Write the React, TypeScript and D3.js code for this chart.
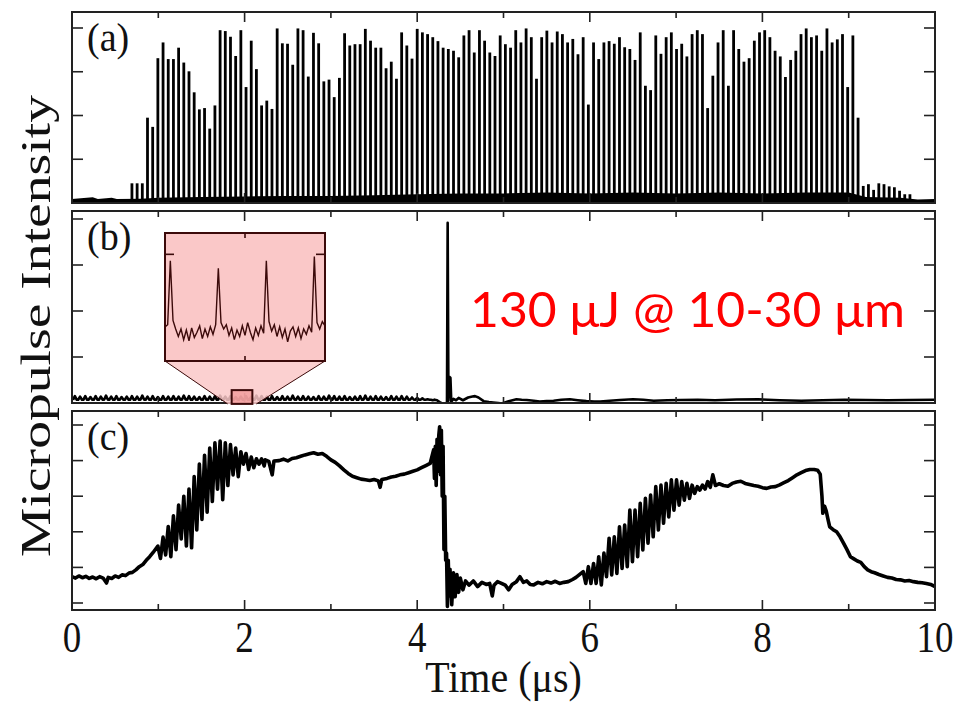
import React, { useEffect, useRef } from "react";
import * as d3 from "d3";

// micropulse timing (us): pulse k sits at pulseT0 + k * pulsePeriod
const pulseT0 = 4.0;
const pulsePeriod = 0.0601;

// (a) peak height of each micropulse, pulse index -55 .. 95
const aFirstPulse = -55;
const aPeaks = [
  0.45, 0.45, 0.45,
  1.95, 1.74, 3.31, 3.67, 3.29, 3.29, 3.55, 3.21, 3.01, 2.53, 2.14, 2.17, 1.7, 2.23,
  3.95, 3.93, 3.8, 3.36, 3.95, 2.65, 3.71, 3.06, 2.23, 2.34, 2.15, 3.99, 3.65, 3.64,
  3.16, 3.99, 3.95, 2.89, 3.89, 3.65, 2.78, 2.82, 2.42, 2.86, 3.88,
  3.6, 3.63, 3.63, 3.98, 3.71, 3.55, 3.55, 3.08, 3.23, 2.84, 3.9, 3.6, 3.3,
  3.98, 3.9, 3.86, 3.79, 3.7, 3.55, 3.52, 3.48, 3.33, 3.83, 3.95, 3.44, 3.95, 3.71,
  3.44, 3.36, 3.83, 3.63, 3.55, 3.95, 3.67, 3.99, 3.79, 2.84, 3.79, 3.94, 3.67, 3.92,
  3.86, 3.67, 3.75, 3.4, 3.79, 2.25, 3.67, 3.29, 3.67, 3.7,
  3.64, 3.79, 3.56, 3.52, 3.27, 3.9, 2.68, 2.58, 3.83, 3.41, 3.79, 3.9, 3.52, 3.64,
  3.35, 3.86, 3.95, 3.86, 2.17, 2.91, 3.67, 3.95, 2.68, 3.95, 3.52, 3.23, 3.31, 3.71,
  3.9, 3.95, 3.79, 3.48, 3.35, 2.88, 3.27, 3.48, 3.86, 3.99, 3.79, 3.83, 3.48, 3.99,
  3.67, 3.74, 3.86, 2.65, 3.83, 1.95,
  0.39, 0.43, 0.3, 0.45, 0.43, 0.38, 0.36, 0.28, 0.2, 0.2,
];
// (a) top of the noise floor between pulses [t, value]
const aFloor = [
  [0, 0.09], [0.24, 0.13], [0.3, 0.09], [0.46, 0.12], [0.52, 0.09], [0.8, 0.1], [1.0, 0.12],
  [1.5, 0.14], [2.0, 0.15], [2.5, 0.16], [3.0, 0.16], [3.5, 0.18], [4.0, 0.2], [4.5, 0.22],
  [5.0, 0.22], [5.5, 0.24], [6.0, 0.22], [6.5, 0.24], [7.0, 0.22], [7.5, 0.24], [8.0, 0.22],
  [8.5, 0.24], [9.0, 0.24], [9.2, 0.14], [9.6, 0.12], [9.8, 0.08], [10, 0.09],
];

// (b) small ripple on the baseline before the burst, pulse index -66 .. 3
const bFirstTooth = -66;
const bBase = 0.07;
const bTeeth = [
  0.15, 0.14, 0.15, 0.13, 0.15, 0.14, 0.16, 0.14, 0.15, 0.13,
  0.14, 0.15, 0.14, 0.16, 0.14, 0.15, 0.13, 0.15, 0.14, 0.15,
  0.14, 0.16, 0.15, 0.14, 0.13, 0.15, 0.14, 0.15, 0.16, 0.14,
  0.15, 0.13, 0.14, 0.15, 0.14, 0.16, 0.15, 0.14, 0.15, 0.13,
  0.15, 0.14, 0.16, 0.14, 0.15, 0.14, 0.13, 0.15, 0.14, 0.16,
  0.15, 0.14, 0.15, 0.13, 0.14, 0.15, 0.16, 0.14, 0.15, 0.14,
  0.13, 0.15, 0.14, 0.15, 0.14, 0.12, 0.11, 0.1, 0.08, 0.06,
];
// (b) the burst and what follows [t, value]
const bTrace = [
  [4.2, 0.07], [4.23, 0.06], [4.26, 0.02], [4.29, -0.01], [4.32, -0.02], [4.345, -0.01],
  [4.353, 3.92], [4.362, 0.05], [4.372, 0.57], [4.385, 0.55], [4.395, 0.03], [4.42, 0.09],
  [4.45, 0.06], [4.48, 0.11], [4.53, 0.06], [4.59, 0.12], [4.64, 0.14], [4.67, 0.15],
  [4.71, 0.12], [4.77, 0.04], [4.83, 0.02], [4.88, 0.01], [4.94, 0.0], [4.98, -0.01],
  [5.06, 0.04], [5.15, 0.08], [5.21, 0.07], [5.27, 0.065], [5.35, 0.05], [5.42, 0.03],
  [5.5, 0.04], [5.58, 0.05], [5.67, 0.07], [5.77, 0.08], [5.86, 0.06], [5.96, 0.04],
  [6.05, 0.03], [6.12, 0.03], [6.23, 0.05], [6.35, 0.065], [6.5, 0.08], [6.62, 0.07],
  [6.74, 0.05], [6.9, 0.06], [7.05, 0.065], [7.25, 0.07], [7.45, 0.06], [7.7, 0.075],
  [7.95, 0.08], [8.2, 0.06], [8.45, 0.05], [8.7, 0.06], [8.95, 0.07], [9.2, 0.065],
  [9.45, 0.06], [9.7, 0.065], [10.0, 0.07],
];

// (b) inset: zoom of 1.85 .. 2.09 us, one sample every insetStep
const insetStart = 1.85;
const insetEnd = 2.09;
const insetStep = 0.004;
const insetValues = [
  0.12, 0.14, 0.74, 0.18, 0.1, 0.03, 0.1, 0.0, 0.09, -0.01, 0.11, 0.02, 0.07, 0.13, 0.01,
  0.1, 0.03, 0.12, 0.05, 0.14, 0.67, 0.16, 0.1, 0.14, 0.04, 0.11, 0.0, 0.09, 0.03, 0.13,
  0.04, 0.16, 0.07, 0.0, 0.11, 0.04, 0.13, 0.06, 0.74, 0.17, 0.08, 0.14, 0.03, 0.12, 0.02,
  0.1, -0.02, 0.08, 0.12, 0.03, 0.11, 0.01, 0.1, 0.05, 0.13, 0.07, 0.78, 0.16, 0.1, 0.17,
  0.13,
];

// (c) [t, value] segments, with the two modulated stretches as peak/trough per pulse
const cTraceStart = [
  [0.0, 0.74], [0.04, 0.7], [0.08, 0.76], [0.12, 0.71], [0.16, 0.75], [0.2, 0.69], [0.24, 0.73],
  [0.28, 0.68], [0.32, 0.74], [0.36, 0.7], [0.4, 0.56], [0.42, 0.72], [0.46, 0.69], [0.5, 0.76],
  [0.54, 0.72], [0.58, 0.79], [0.62, 0.77], [0.66, 0.84], [0.7, 0.86], [0.74, 0.93], [0.78, 1.02],
  [0.82, 1.08], [0.86, 1.2], [0.9, 1.3], [0.94, 1.42],
];
const cOsc1First = -50;
const cOsc1Peaks = [
  1.6, 1.85, 2.15, 2.45, 2.75, 3.0, 3.2, 3.55, 3.9, 4.15, 4.35, 4.5, 4.55, 4.5, 4.45, 4.35,
  4.25, 4.2, 4.1, 4.05, 4.05,
];
const cOsc1Troughs = [
  1.25, 1.35, 1.3, 1.5, 1.8, 1.6, 1.55, 2.05, 2.35, 2.55, 2.85, 3.2, 2.9, 3.3, 3.6, 3.55,
  3.9, 3.75, 3.8, 3.9, 3.85,
];
const cTraceMid = [
  [2.24, 4.02], [2.28, 3.98], [2.32, 3.6], [2.34, 3.99], [2.4, 4.0], [2.45, 4.04], [2.5, 3.99],
  [2.55, 4.06], [2.6, 4.08], [2.65, 4.12], [2.7, 4.16], [2.75, 4.19], [2.8, 4.22], [2.85, 4.18],
  [2.9, 4.2], [2.95, 4.12], [3.0, 4.02], [3.05, 3.95], [3.1, 3.85], [3.15, 3.74], [3.2, 3.64],
  [3.25, 3.56], [3.3, 3.52], [3.35, 3.48], [3.4, 3.46], [3.45, 3.44], [3.5, 3.47], [3.55, 3.43],
  [3.57, 3.25], [3.59, 3.47], [3.65, 3.5], [3.7, 3.54], [3.75, 3.56], [3.8, 3.6], [3.85, 3.62],
  [3.9, 3.66], [3.95, 3.7], [4.0, 3.74], [4.05, 3.8], [4.1, 3.86], [4.15, 3.92],
  [4.19, 4.3], [4.2, 3.5], [4.21, 4.4], [4.22, 3.3], [4.23, 4.6], [4.24, 3.7], [4.25, 4.7],
  [4.26, 4.95], [4.27, 3.6], [4.28, 4.85], [4.29, 3.0], [4.3, 4.4], [4.31, 1.5], [4.32, 3.0],
  [4.33, 1.2], [4.34, 1.4], [4.35, -0.1], [4.36, 1.2], [4.37, 0.2], [4.38, 0.95], [4.4, -0.05],
  [4.42, 0.85], [4.44, 0.18], [4.46, 0.8], [4.48, 0.3], [4.5, 0.7], [4.53, 0.37], [4.56, 0.62],
  [4.6, 0.5], [4.65, 0.62], [4.7, 0.46], [4.75, 0.58], [4.8, 0.52], [4.84, 0.55], [4.87, 0.2],
  [4.89, 0.5], [4.93, 0.6], [4.97, 0.56], [5.02, 0.5], [5.06, 0.37], [5.1, 0.52], [5.15, 0.6],
  [5.19, 0.74], [5.23, 0.58], [5.27, 0.62], [5.31, 0.52], [5.35, 0.51], [5.4, 0.58], [5.45, 0.54],
  [5.5, 0.6], [5.55, 0.56], [5.6, 0.61], [5.65, 0.55], [5.7, 0.58], [5.75, 0.6], [5.8, 0.66],
  [5.84, 0.72],
];
const cOsc2First = 32;
const cOsc2Peaks = [
  0.88, 1.02, 1.11, 1.3, 1.4, 1.82, 1.86, 2.14, 2.19, 2.61, 2.61, 2.8, 2.94, 3.03, 3.27, 3.31,
  3.36, 3.46, 3.46, 3.41, 3.36, 3.31, 3.27, 3.31, 3.41, 3.6,
];
const cOsc2Troughs = [
  0.55, 0.55, 0.55, 0.51, 0.74, 0.79, 0.83, 0.97, 1.02, 1.16, 1.3, 1.49, 1.68, 1.86, 2.05, 2.24,
  2.42, 2.61, 2.75, 2.89, 2.94, 3.08, 3.17, 3.2, 3.25, 3.3,
];
const cTraceEnd = [
  [7.5, 3.35], [7.55, 3.3], [7.6, 3.28], [7.65, 3.36], [7.7, 3.4], [7.75, 3.42], [7.8, 3.36],
  [7.85, 3.33], [7.9, 3.3], [7.95, 3.28], [8.0, 3.24], [8.05, 3.22], [8.1, 3.26], [8.15, 3.27],
  [8.2, 3.32], [8.25, 3.38], [8.3, 3.44], [8.35, 3.52], [8.4, 3.6], [8.45, 3.66], [8.5, 3.72],
  [8.55, 3.75], [8.6, 3.75], [8.64, 3.73], [8.67, 3.62], [8.69, 3.0], [8.7, 2.52], [8.72, 2.72],
  [8.74, 2.58], [8.76, 2.35], [8.78, 2.14], [8.82, 2.06], [8.86, 2.0], [8.9, 1.86], [8.94, 1.68],
  [8.98, 1.5], [9.02, 1.3], [9.06, 1.24], [9.1, 1.18], [9.14, 1.14], [9.18, 1.02], [9.22, 0.93],
  [9.26, 0.88], [9.3, 0.85], [9.35, 0.8], [9.4, 0.76], [9.45, 0.72], [9.5, 0.7], [9.55, 0.66],
  [9.6, 0.65], [9.65, 0.62], [9.7, 0.63], [9.75, 0.6], [9.8, 0.58], [9.85, 0.57], [9.9, 0.55],
  [9.95, 0.52], [10.0, 0.46],
];

const xTicks = [0, 1, 2, 3, 4, 5, 6, 7, 8, 9, 10];
const xTickLabels = [0, 2, 4, 6, 8, 10];
const panelLabels = ["(a)", "(b)", "(c)"];

const pulseTime = (k: number) => pulseT0 + k * pulsePeriod;

const App = () => {
  const svgRef = useRef(null);

  useEffect(() => {
    const width = 958;
    const height = 702;
    const left = 72;
    const right = 935;
    const serif = "'Liberation Serif', 'Times New Roman', serif";

    const svg = d3.select(svgRef.current);
    svg.selectAll("*").remove();
    svg.attr("width", width).attr("height", height);
    svg.append("rect").attr("width", width).attr("height", height).attr("fill", "#fff");

    const x = d3.scaleLinear().domain([0, 10]).range([left, right]);

    const panels = [
      { top: 12, bottom: 203, y: d3.scaleLinear().domain([0, 4]).range([203, 28]), yTicks: [1, 2, 3, 4], labelY: 51 },
      { top: 211, bottom: 403, y: d3.scaleLinear().domain([0, 4]).range([403, 219]), yTicks: [1, 2, 3, 4], labelY: 250 },
      { top: 411, bottom: 610, y: d3.scaleLinear().domain([0, 5]).range([603, 425]), yTicks: [0, 1, 2, 3, 4, 5], labelY: 450 },
    ];

    const defs = svg.append("defs");
    panels.forEach((p, i) => {
      defs
        .append("clipPath")
        .attr("id", `clip-${i}`)
        .append("rect")
        .attr("x", left)
        .attr("y", p.top)
        .attr("width", right - left)
        .attr("height", p.bottom - p.top);
    });

    //(a) pulse train
    const pa = panels[0];
    const ga = svg.append("g").attr("clip-path", "url(#clip-0)");
    ga.append("path")
      .attr(
        "d",
        d3
          .area()
          .x((d) => x(d[0]))
          .y0(pa.y(0.01))
          .y1((d) => pa.y(d[1]))(aFloor),
      )
      .attr("fill", "#000");
    ga.selectAll(".pulse")
      .data(aPeaks)
      .join("line")
      .attr("class", "pulse")
      .attr("x1", (d, i) => x(pulseTime(aFirstPulse + i)))
      .attr("x2", (d, i) => x(pulseTime(aFirstPulse + i)))
      .attr("y1", pa.y(0.02))
      .attr("y2", (d) => pa.y(d))
      .attr("stroke", "#000")
      .attr("stroke-width", 2.8);

    //(b) trace
    const pb = panels[1];
    const bPoints: number[][] = [];
    bTeeth.forEach((h, i) => {
      const t = pulseTime(bFirstTooth + i);
      bPoints.push([t - 0.022, bBase], [t, h], [t + 0.022, bBase]);
    });
    bTrace.forEach((d) => bPoints.push(d));
    const bLine = d3
      .line()
      .x((d) => x(d[0]))
      .y((d) => pb.y(d[1]));
    svg.append("g")
      .attr("clip-path", "url(#clip-1)")
      .append("path")
      .attr("d", bLine(bPoints))
      .attr("fill", "none")
      .attr("stroke", "#000")
      .attr("stroke-width", 2.6)
      .attr("stroke-linejoin", "round");

    //(c) trace
    const pc = panels[2];
    const cPoints: number[][] = [...cTraceStart];
    cOsc1Peaks.forEach((v, i) => {
      const t = pulseTime(cOsc1First + i);
      cPoints.push([t, v], [t + pulsePeriod / 2, cOsc1Troughs[i]]);
    });
    cTraceMid.forEach((d) => cPoints.push(d));
    cOsc2Peaks.forEach((v, i) => {
      const t = pulseTime(cOsc2First + i);
      cPoints.push([t, v], [t + pulsePeriod / 2, cOsc2Troughs[i]]);
    });
    cTraceEnd.forEach((d) => cPoints.push(d));
    svg.append("g")
      .attr("clip-path", "url(#clip-2)")
      .append("path")
      .attr(
        "d",
        d3
          .line()
          .x((d) => x(d[0]))
          .y((d) => pc.y(d[1]))(cPoints),
      )
      .attr("fill", "none")
      .attr("stroke", "#000")
      .attr("stroke-width", 3.6)
      .attr("stroke-linejoin", "round");

    //frames + ticks
    panels.forEach((p, i) => {
      const g = svg.append("g");
      xTicks.forEach((t) => {
        const len = t % 2 === 0 ? 10 : 6;
        g.append("line").attr("x1", x(t)).attr("x2", x(t)).attr("y1", p.top).attr("y2", p.top + len);
        g.append("line").attr("x1", x(t)).attr("x2", x(t)).attr("y1", p.bottom).attr("y2", p.bottom - len);
      });
      p.yTicks.forEach((v) => {
        g.append("line").attr("x1", left).attr("x2", left + 11).attr("y1", p.y(v)).attr("y2", p.y(v));
        g.append("line").attr("x1", right - 11).attr("x2", right).attr("y1", p.y(v)).attr("y2", p.y(v));
      });
      g.selectAll("line").attr("stroke", "#222").attr("stroke-width", 1.6);
      g.append("rect")
        .attr("x", left)
        .attr("y", p.top)
        .attr("width", right - left)
        .attr("height", p.bottom - p.top)
        .attr("fill", "none")
        .attr("stroke", "#222")
        .attr("stroke-width", 2);
      svg.append("text")
        .attr("transform", `translate(87,${p.labelY}) scale(1,1.08)`)
        .attr("font-family", serif)
        .attr("font-size", 38)
        .attr("fill", "#111")
        .text(panelLabels[i]);
    });

    //inset in (b)
    const pink = "#fac8c8";
    const dark = "#3b0a0a";
    const inset = { x0: 165, x1: 325, y0: 233, y1: 361 };
    const ix = d3.scaleLinear().domain([insetStart, insetEnd]).range([inset.x0, inset.x1]);
    const iy = d3.scaleLinear().domain([-0.2, 1.0]).range([inset.y1, inset.y0]);
    const boxL = x(insetStart);
    const boxR = x(insetEnd);
    const boxT = pb.y(0.28);
    const boxB = pb.y(-0.02);
    svg.append("path")
      .attr("d", `M${inset.x0},${inset.y1}L${inset.x1},${inset.y1}L${boxR + 4},${boxB}L${boxL - 4},${boxB}Z`)
      .attr("fill", pink)
      .attr("fill-opacity", 0.85);
    svg.append("line").attr("x1", inset.x0).attr("y1", inset.y1).attr("x2", boxL - 4).attr("y2", boxB)
      .attr("stroke", dark).attr("stroke-width", 1);
    svg.append("line").attr("x1", inset.x1).attr("y1", inset.y1).attr("x2", boxR + 4).attr("y2", boxB)
      .attr("stroke", dark).attr("stroke-width", 1);
    svg.append("rect")
      .attr("x", boxL)
      .attr("y", boxT)
      .attr("width", boxR - boxL)
      .attr("height", boxB - boxT)
      .attr("fill", "#f08a8a")
      .attr("fill-opacity", 0.6)
      .attr("stroke", dark)
      .attr("stroke-width", 2);
    svg.append("rect")
      .attr("x", inset.x0)
      .attr("y", inset.y0)
      .attr("width", inset.x1 - inset.x0)
      .attr("height", inset.y1 - inset.y0)
      .attr("fill", pink)
      .attr("stroke", dark)
      .attr("stroke-width", 2);
    const insetLine = d3
      .line()
      .x((d, i) => ix(insetStart + i * insetStep))
      .y((d) => iy(d));
    svg.append("path")
      .attr("d", insetLine(insetValues))
      .attr("fill", "none")
      .attr("stroke", dark)
      .attr("stroke-width", 1.4);
    const midT = (insetStart + insetEnd) / 2;
    const gi = svg.append("g").attr("stroke", dark).attr("stroke-width", 1.6);
    gi.append("line").attr("x1", ix(midT)).attr("x2", ix(midT)).attr("y1", inset.y0).attr("y2", inset.y0 + 5);
    gi.append("line").attr("x1", ix(midT)).attr("x2", ix(midT)).attr("y1", inset.y1).attr("y2", inset.y1 - 5);
    gi.append("line").attr("x1", inset.x0).attr("x2", inset.x0 + 9).attr("y1", iy(0.8)).attr("y2", iy(0.8));
    gi.append("line").attr("x1", inset.x1 - 9).attr("x2", inset.x1).attr("y1", iy(0.8)).attr("y2", iy(0.8));

    //annotation
    svg.append("text")
      .attr("x", 470)
      .attr("y", 327)
      .attr("font-family", "Lato, 'Open Sans', sans-serif")
      .attr("font-size", 48)
      .attr("fill", "#ff0000")
      .attr("textLength", 435)
      .attr("lengthAdjust", "spacingAndGlyphs")
      .text("130 μJ @ 10-30 μm");

    //axis labels
    xTickLabels.forEach((t) => {
      svg.append("text")
        .attr("transform", `translate(${x(t)},652) scale(1,1.22)`)
        .attr("text-anchor", "middle")
        .attr("font-family", serif)
        .attr("font-size", 37)
        .attr("fill", "#111")
        .text(t);
    });
    svg.append("text")
      .attr("transform", `translate(${(left + right) / 2},692) scale(1,1.12)`)
      .attr("text-anchor", "middle")
      .attr("font-family", serif)
      .attr("font-size", 40)
      .attr("fill", "#111")
      .text("Time (μs)");
    svg.append("text")
      .attr("transform", "translate(50,326) rotate(-90)")
      .attr("text-anchor", "middle")
      .attr("font-family", serif)
      .attr("font-size", 43)
      .attr("fill", "#111")
      .attr("textLength", 462)
      .attr("lengthAdjust", "spacingAndGlyphs")
      .text("Micropulse Intensity");
  }, []);

  return (
    <svg ref={svgRef} style={{ position: "absolute", left: 0, top: 0, display: "block" }} />
  );
};

export default App;
